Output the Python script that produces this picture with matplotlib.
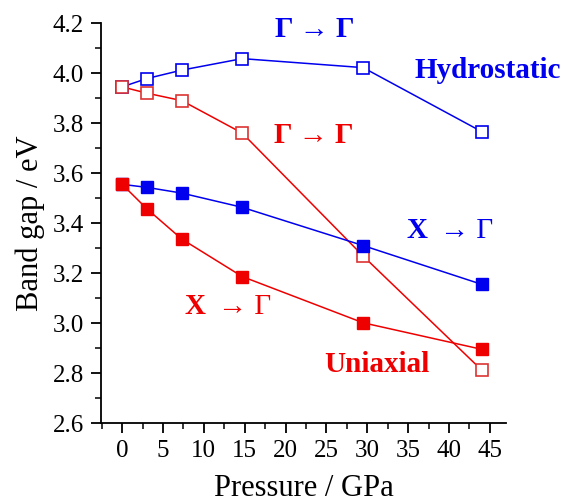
import numpy as np
import matplotlib.pyplot as plt
from matplotlib.ticker import MultipleLocator

plt.rcParams['font.family'] = ['Liberation Serif', 'DejaVu Serif']

# pressure points (GPa)
pressure = [0, 3, 7.3, 14.7, 29.5, 44]

# band gaps (eV)
hydro_gg = [3.945, 3.978, 4.012, 4.058, 4.022, 3.766]
uni_gg = [3.945, 3.920, 3.890, 3.760, 3.268, 2.812]
hydro_xg = [3.555, 3.543, 3.520, 3.463, 3.310, 3.155]
uni_xg = [3.555, 3.458, 3.336, 3.186, 3.001, 2.895]

blue = '#0000ee'
red = '#ee0000'

fig = plt.figure(figsize=(5.7, 5.03), dpi=100)
ax = fig.add_axes([0.177, 0.159, 0.711, 0.795])

ax.plot(pressure, hydro_gg, '-s', color=blue, lw=1.1, ms=8, mfc='white', mec=blue, mew=1.2)
ax.plot(pressure, uni_gg, '-s', color=red, lw=1.1, ms=8, mfc='white', mec='#dd3333', mew=1.2)
ax.plot(pressure, hydro_xg, '-s', color=blue, lw=1.1, ms=8.5, mfc=blue, mec=blue)
ax.plot(pressure, uni_xg, '-s', color=red, lw=1.1, ms=8.5, mfc=red, mec=red)

# labels
fs = 21
ax.text(23.6, 4.144, 'Γ → Γ', color=blue, fontsize=fs, fontweight='bold', ha='center', va='baseline')
ax.text(44.8, 3.98, 'Hydrostatic', color=blue, fontsize=fs, fontweight='bold', ha='center', va='baseline')
ax.text(23.4, 3.72, 'Γ → Γ', color=red, fontsize=fs, fontweight='bold', ha='center', va='baseline')
# X -> Gamma: bold X, regular arrow and Gamma
ax.text(37.4, 3.34, 'X', color=blue, fontsize=fs, fontweight='bold', ha='right', va='baseline')
ax.text(38.9, 3.34, '→ Γ', color=blue, fontsize=fs, ha='left', va='baseline')
ax.text(10.2, 3.036, 'X', color=red, fontsize=fs, fontweight='bold', ha='right', va='baseline')
ax.text(11.7, 3.036, '→ Γ', color=red, fontsize=fs, ha='left', va='baseline')
ax.text(31.2, 2.805, 'Uniaxial', color=red, fontsize=fs, fontweight='bold', ha='center', va='baseline')

ax.set_xlim(-2.6, 47)
ax.set_ylim(2.6, 4.2)
ax.xaxis.set_major_locator(MultipleLocator(5))
ax.xaxis.set_minor_locator(MultipleLocator(2.5))
ax.yaxis.set_major_locator(MultipleLocator(0.2))
ax.yaxis.set_minor_locator(MultipleLocator(0.1))
ax.yaxis.set_major_formatter(plt.FormatStrFormatter('%.1f'))

for s in ['top', 'right']:
    ax.spines[s].set_visible(False)
for s in ['left', 'bottom']:
    ax.spines[s].set_linewidth(1.3)
ax.tick_params(which='major', direction='out', length=7, width=1.3, labelsize=18, pad=5)
ax.tick_params(which='minor', direction='out', length=4, width=1.1)

ax.set_xlabel('Pressure / GPa', fontsize=22, labelpad=9)
ax.set_ylabel('Band gap / eV', fontsize=22, labelpad=6)

fig.savefig('out.png', dpi=100)
